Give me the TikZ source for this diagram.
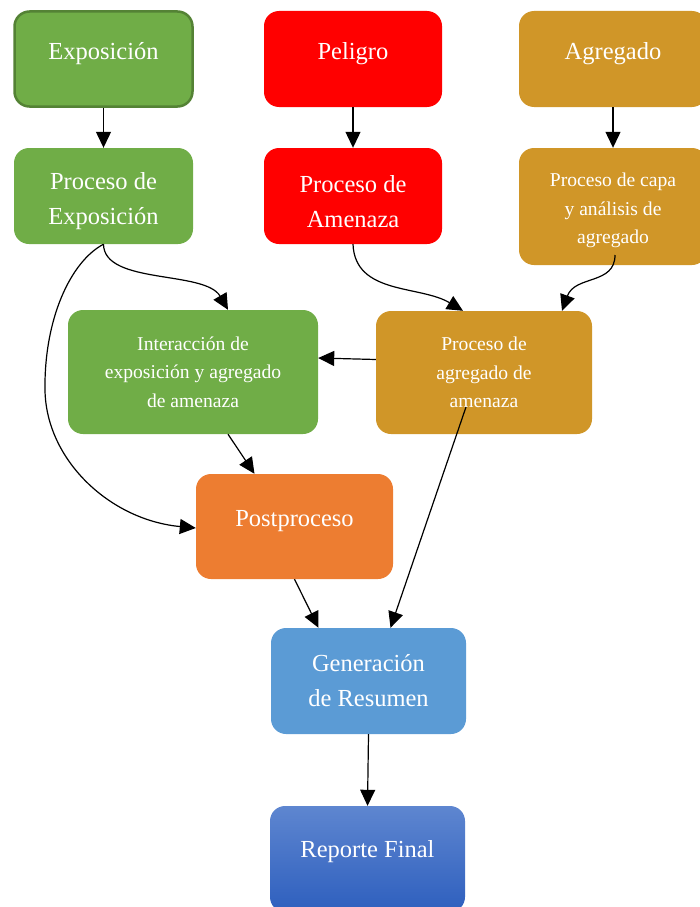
\documentclass[tikz,border=0pt]{standalone}
\usepackage{fontspec}
\setmainfont{Liberation Serif}
\usetikzlibrary{arrows.meta,calc}

\definecolor{expgreen}{HTML}{70AD47}
\definecolor{expborder}{HTML}{548235}
\definecolor{hazred}{HTML}{FF0000}
\definecolor{agggold}{HTML}{D09628}
\definecolor{postorange}{HTML}{ED7D31}
\definecolor{sumblue}{HTML}{5B9BD5}
\definecolor{reptop}{HTML}{5E86D0}
\definecolor{repbot}{HTML}{2E5FBE}

\tikzset{
  box/.style={rectangle, rounded corners=15pt, inner sep=0pt},
  bigtext/.style={align=center, inner sep=0pt, text=white,
    font=\fontsize{24.5}{35}\selectfont},
  smalltext/.style={bigtext, font=\fontsize{19.6}{28.5}\selectfont},
  link/.style={line width=1.2pt, -{Triangle[length=16pt,width=15pt]}},
}

\begin{document}
\begin{tikzpicture}[x=1pt, y=-1pt]
\useasboundingbox (0,0) rectangle (700,907);
\clip (0,0) rectangle (700,907);

% top row: inputs
\node[box, fill=expgreen, draw=expborder, line width=2.5pt,
      minimum width=178pt, minimum height=95pt,
      label={[bigtext, yshift=5pt]center:Exposición}] (expo) at (103.5,59) {};
\node[box, fill=hazred, minimum width=178pt, minimum height=96pt,
      label={[bigtext, yshift=5pt]center:Peligro}] (pel) at (353,59) {};
\node[box, fill=agggold, minimum width=188pt, minimum height=96pt,
      label={[bigtext, yshift=5pt]center:Agregado}] (agr) at (613,59) {};

% second row: per-input processing
\node[box, fill=expgreen, minimum width=179pt, minimum height=96pt,
      label={[bigtext, yshift=-5.5pt]center:Proceso de\\Exposición}] (pexp) at (103.5,196) {};
\node[box, fill=hazred, minimum width=178pt, minimum height=96pt,
      label={[bigtext, yshift=-5.5pt]center:Proceso de\\Amenaza}] (pam) at (353,196) {};
\node[box, fill=agggold, minimum width=188pt, minimum height=117pt,
      label={[smalltext, yshift=-4pt]center:Proceso de capa\\y análisis de\\agregado}] (pcapa) at (613,206.5) {};

% third row: combination
\node[box, fill=expgreen, minimum width=250pt, minimum height=124pt,
      label={[smalltext]center:Interacción de\\exposición y agregado\\de amenaza}] (inter) at (193,372) {};
\node[box, fill=agggold, minimum width=216pt, minimum height=123pt,
      label={[smalltext]center:Proceso de\\agregado de\\amenaza}] (pagr) at (484,372.5) {};

% post-processing and outputs
\node[box, fill=postorange, minimum width=197pt, minimum height=105pt,
      label={[bigtext, yshift=5pt]center:Postproceso}] (post) at (294.5,526.5) {};
\node[box, fill=sumblue, minimum width=195pt, minimum height=106pt,
      label={[bigtext]center:Generación\\de Resumen}] (gen) at (368.5,681) {};
\node[box, top color=reptop, bottom color=repbot, minimum width=195pt, minimum height=106pt,
      label={[bigtext, yshift=7pt]center:Reporte Final}] (rep) at (367.5,859) {};

% start points of connectors that leave from inside a box
\coordinate (capaout) at (615,255);
\coordinate (pagrout) at (466,407);

% connectors
\draw[link] (expo.south) -- (pexp.north);
\draw[link] (pel.south) -- (pam.north);
\draw[link] (agr.south) -- (pcapa.north);

\draw[link] (pexp.south) .. controls (104,285) and (205,270) .. ([xshift=35pt]inter.north);
\draw[link] (pexp.south) .. controls (70,262) and (44,320) .. (45,390)
                          .. controls (46,460) and (110,520) .. ([yshift=-1.5pt]post.west);
\draw[link] (pam.south) .. controls (355,295) and (420,285) .. ([xshift=-21pt]pagr.north);
\draw[link] (capaout) .. controls (615,285) and (575,275) .. ([xshift=78pt]pagr.north);

\draw[link] ([yshift=13pt]pagr.west) -- ([yshift=14pt]inter.east);
\draw[link] ([xshift=35pt]inter.south) -- ([xshift=-40pt]post.north);
\draw[link] (pagrout) -- ([xshift=22pt]gen.north);
\draw[link] (post.south) -- ([xshift=-50pt]gen.north);
\draw[link] (gen.south) -- (rep.north);
\end{tikzpicture}
\end{document}
